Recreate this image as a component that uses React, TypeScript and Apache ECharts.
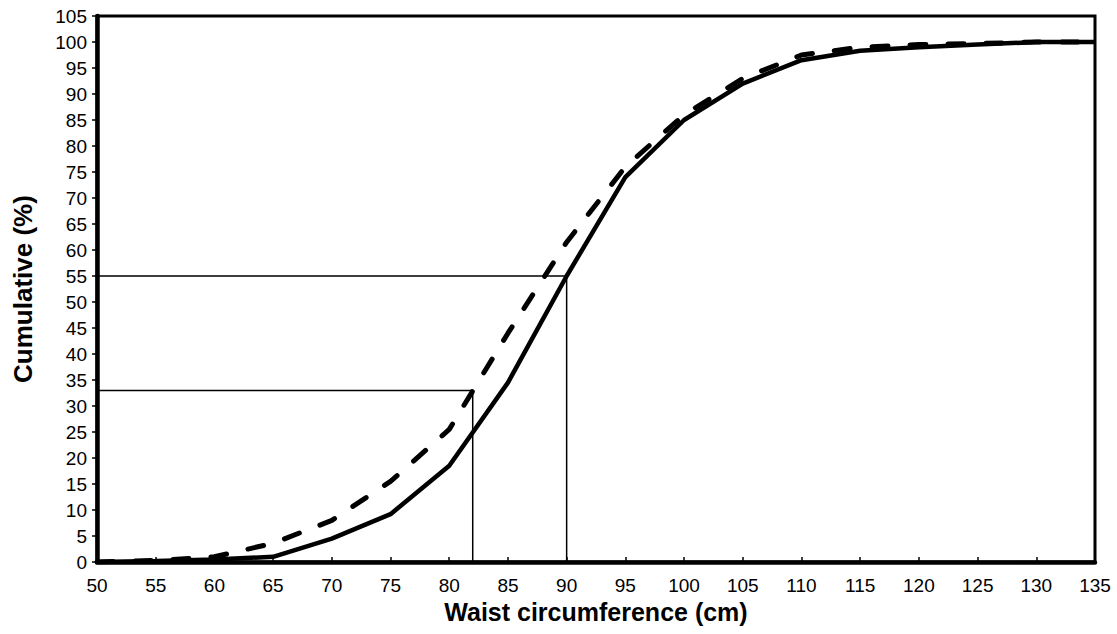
import React, { useEffect, useRef } from "react";
import * as echarts from "echarts";

const waist = [50, 55, 60, 65, 70, 75, 80, 85, 90, 95, 100, 105, 110, 115, 120, 125, 130, 135];
const solidCum = [0, 0.2, 0.5, 1, 4.5, 9.2, 18.5, 34.5, 55, 74, 85, 92, 96.5, 98.3, 99, 99.5, 100, 100];
const dashedCum = [0, 0.3, 1, 3.6, 8, 15.5, 25.5, 44, 61.5, 76, 86, 93, 97.5, 99, 99.5, 99.7, 100, 100];

const refLineA = [[50, 55], [90, 55], [90, 0]];
const refLineB = [[50, 33], [82, 33], [82, 0]];

const xTicks = { min: 50, max: 135, step: 5 };
const yTicks = { min: 0, max: 105, step: 5 };

export default function App() {
  const ref = useRef<HTMLDivElement>(null);
  useEffect(() => {
    if (!ref.current) return;
    const chart = echarts.init(ref.current, null, { renderer: "svg" });
    const font = "'Liberation Sans', Arial, sans-serif";
    chart.setOption({
      animation: false,
      backgroundColor: "#ffffff",
      grid: {
        left: 97,
        right: 22,
        top: 16,
        bottom: 72,
        show: true,
        borderColor: "#000",
        borderWidth: 3,
        backgroundColor: "transparent",
      },
      xAxis: {
        type: "value",
        min: xTicks.min,
        max: xTicks.max,
        interval: xTicks.step,
        name: "Waist circumference (cm)",
        nameLocation: "middle",
        nameGap: 37,
        nameTextStyle: { fontFamily: font, fontSize: 25, fontWeight: "bold", color: "#000" },
        axisLine: { lineStyle: { color: "#000", width: 4.5 } },
        axisTick: { inside: true, length: 5, lineStyle: { color: "#000", width: 1.5 } },
        axisLabel: { fontFamily: font, fontSize: 19, color: "#000", margin: 14 },
        splitLine: { show: false },
      },
      yAxis: {
        type: "value",
        min: yTicks.min,
        max: yTicks.max,
        interval: yTicks.step,
        name: "Cumulative (%)",
        nameLocation: "middle",
        nameGap: 61,
        nameTextStyle: { fontFamily: font, fontSize: 26, fontWeight: "bold", color: "#000" },
        axisLine: { lineStyle: { color: "#000", width: 4.5 } },
        axisTick: { inside: false, length: 5, lineStyle: { color: "#000", width: 1.5 } },
        axisLabel: { fontFamily: font, fontSize: 19, color: "#000", margin: 10 },
        splitLine: { show: false },
      },
      series: [
        {
          type: "line",
          data: refLineA,
          symbol: "none",
          lineStyle: { color: "#000", width: 1.5 },
          silent: true,
        },
        {
          type: "line",
          data: refLineB,
          symbol: "none",
          lineStyle: { color: "#000", width: 1.5 },
          silent: true,
        },
        {
          type: "line",
          data: waist.map((x, i) => [x, dashedCum[i]]),
          symbol: "none",
          lineStyle: { color: "#000", width: 5, type: [16, 22], cap: "round" },
        },
        {
          type: "line",
          data: waist.map((x, i) => [x, solidCum[i]]),
          symbol: "none",
          lineStyle: { color: "#000", width: 4.5 },
        },
      ],
    });
    return () => chart.dispose();
  }, []);
  return (
    <div
      ref={ref}
      style={{ position: "fixed", left: 0, top: 0, width: 1117, height: 634, background: "#fff" }}
    />
  );
}
